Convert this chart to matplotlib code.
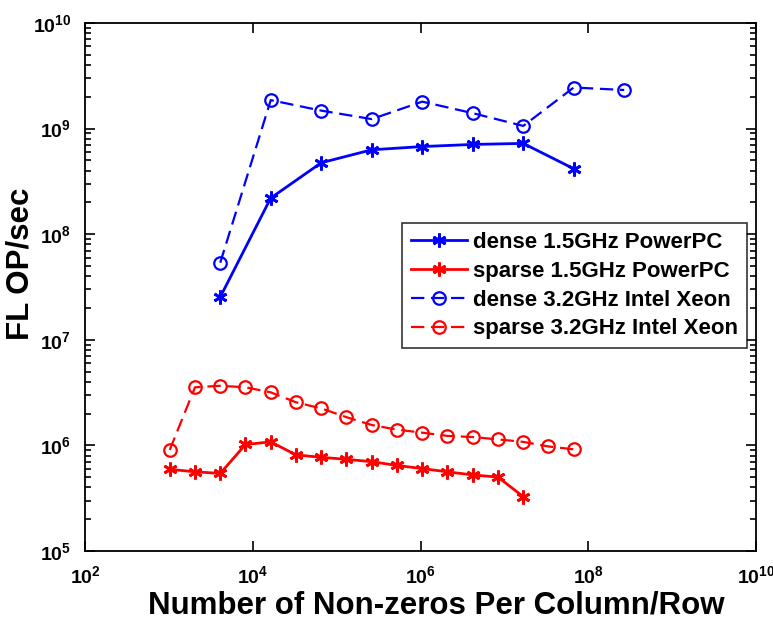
import matplotlib
matplotlib.use("Agg")
from matplotlib import pyplot as plt
from matplotlib.ticker import LogLocator, NullLocator

plt.rcParams['font.family'] = ['Liberation Sans', 'DejaVu Sans']
plt.rcParams['font.weight'] = 'bold'

# 数据
x_dense = [4096, 16384, 65536, 262144, 1048576, 4194304, 16777216, 67108864, 268435456]
dense_ppc = [2.54e7, 2.20e8, 4.75e8, 6.3e8, 6.76e8, 7.08e8, 7.24e8, 4.17e8]
dense_xeon = [5.37e7, 1.86e9, 1.48e9, 1.23e9, 1.80e9, 1.40e9, 1.06e9, 2.45e9, 2.32e9]

x_sparse = [1024, 2048, 4096, 8192, 16384, 32768, 65536, 131072, 262144, 524288,
            1048576, 2097152, 4194304, 8388608, 16777216, 33554432, 67108864]
sparse_ppc = [5.94e5, 5.62e5, 5.43e5, 1.02e6, 1.08e6, 8.13e5, 7.71e5, 7.38e5, 7.01e5,
              6.46e5, 6.03e5, 5.62e5, 5.25e5, 5.01e5, 3.27e5]
sparse_xeon = [9.06e5, 3.55e6, 3.67e6, 3.55e6, 3.18e6, 2.56e6, 2.24e6, 1.85e6, 1.56e6,
               1.41e6, 1.32e6, 1.23e6, 1.20e6, 1.14e6, 1.08e6, 9.77e5, 9.18e5]

labels = ['dense 1.5GHz PowerPC', 'sparse 1.5GHz PowerPC',
          'dense 3.2GHz Intel Xeon', 'sparse 3.2GHz Intel Xeon']

asterisk = (6, 2, 0)

fig = plt.figure(figsize=(7.73, 6.24), dpi=100)
ax = fig.add_axes([85 / 773, 1 - 551 / 624, 671 / 773, 528 / 624])

ax.loglog(x_dense[:len(dense_ppc)], dense_ppc, '-', color='blue', lw=2,
          marker=asterisk, ms=10, mew=2, label=labels[0])
ax.loglog(x_sparse[:len(sparse_ppc)], sparse_ppc, '-', color='red', lw=2,
          marker=asterisk, ms=10, mew=2, label=labels[1])
ax.loglog(x_dense, dense_xeon, '--', color='blue', lw=1.6, dashes=(6, 3),
          marker='o', ms=9, mfc='none', mew=1.6, label=labels[2])
ax.loglog(x_sparse, sparse_xeon, '--', color='red', lw=1.6, dashes=(6, 3),
          marker='o', ms=9, mfc='none', mew=1.6, label=labels[3])

ax.set_xlim(1e2, 1e10)
ax.set_ylim(1e5, 1e10)
ax.xaxis.set_major_locator(LogLocator(base=100))
ax.xaxis.set_minor_locator(NullLocator())
ax.yaxis.set_major_locator(LogLocator(base=10))
ax.yaxis.set_minor_locator(LogLocator(base=10, subs=range(2, 10)))
ax.tick_params(which='both', direction='in', top=True, right=True, width=1.2)
ax.tick_params(which='major', length=7, labelsize=14, pad=10)
ax.tick_params(which='minor', length=4)
for s in ax.spines.values():
    s.set_linewidth(1.3)

ax.set_xlabel('Number of Non-zeros Per Column/Row', fontsize=22.5, fontweight='bold')
ax.set_ylabel('FL OP/sec', fontsize=22.5, fontweight='bold')
ax.xaxis.set_label_coords(0.523, -0.074)
ax.yaxis.set_label_coords(-0.074, 0.544)

leg = ax.legend(loc='upper right', bbox_to_anchor=(0.987, 0.621), borderaxespad=0,
                prop={'size': 16, 'weight': 'bold'}, frameon=True, fancybox=False,
                edgecolor='black', handlelength=2.5, handletextpad=0.3,
                labelspacing=0.35)
leg.get_frame().set_linewidth(1.2)

plt.savefig('out.png', dpi=100)
